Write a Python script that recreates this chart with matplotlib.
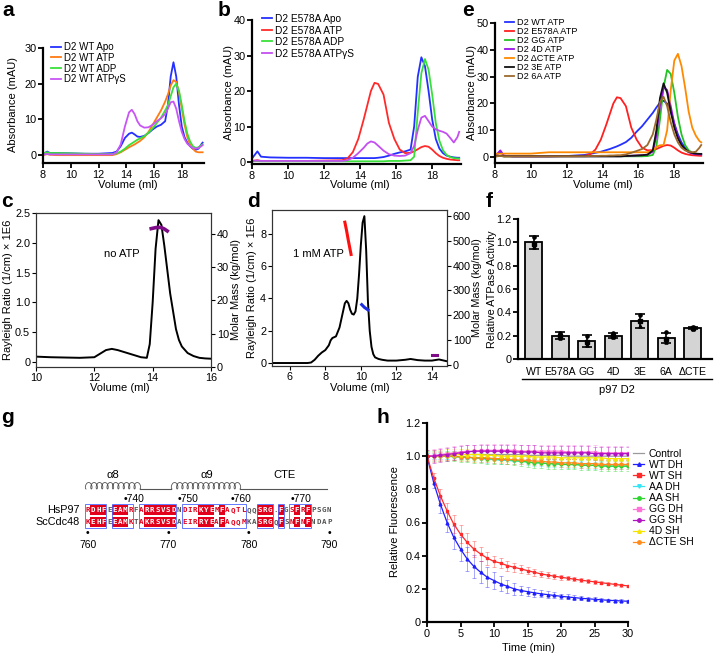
import numpy as np
import matplotlib
matplotlib.use("Agg")
import matplotlib.pyplot as plt
from matplotlib.lines import Line2D
from matplotlib.patches import Rectangle
from matplotlib.ticker import FuncFormatter

plt.rcParams['font.family'] = ['Liberation Sans', 'DejaVu Sans']
plt.rcParams['font.size'] = 7.8

# ---------------- data ----------------
# SEC elution volumes (ml) shared by panels a, b, e
vol = [8.0, 8.3, 8.5, 9.0, 10.0, 11.0, 12.0, 13.0,
       13.3, 13.6, 13.9, 14.2, 14.4, 14.6, 14.8, 15.0,
       15.3, 15.6, 15.9, 16.2, 16.5, 16.8, 17.0, 17.2,
       17.4, 17.6, 17.8, 18.0, 18.2, 18.4, 18.6, 18.8,
       19.0, 19.2, 19.4, 19.5]

# panel a: D2 WT
a_labels = ['D2 WT Apo', 'D2 WT ATP', 'D2 WT ADP', 'D2 WT ATPγS']
a_apo = [0.3, 1.0, 0.6, 0.6, 0.5, 0.4, 0.4, 0.6,
         1.0, 2.5, 4.8, 6.0, 6.3, 5.8, 5.2, 5.1,
         5.4, 6.2, 7.2, 8.0, 8.5, 9.5, 14.0, 22.0,
         26.0, 22.0, 14.0, 8.0, 5.0, 3.5, 2.5, 1.8,
         1.5, 1.8, 3.0, 3.5]
a_atp = [0.0, 0.3, 0.1, 0.0, 0.0, 0.0, 0.0, 0.0,
         0.3, 0.8, 1.5, 2.2, 2.6, 3.0, 3.5, 4.0,
         5.0, 6.5, 8.5, 10.5, 12.5, 15.0, 17.0, 19.5,
         21.0, 20.5, 17.5, 13.0, 8.5, 5.0, 3.0, 1.8,
         1.0, 0.8, 0.8, 0.8]
a_adp = [0.5, 0.8, 0.6, 0.6, 0.5, 0.4, 0.3, 0.3,
         0.5, 1.0, 1.8, 2.8, 3.3, 3.8, 4.3, 4.7,
         5.3, 6.3, 7.5, 9.0, 10.5, 12.5, 14.0, 16.5,
         19.0, 20.0, 18.0, 14.0, 9.5, 6.0, 3.8, 2.5,
         2.0, 2.2, 2.8, 3.0]
a_atpgs = [0.2, 0.3, 0.2, 0.2, 0.2, 0.2, 0.2, 0.2,
           0.8, 3.0, 8.0, 12.0, 12.7, 11.5, 9.5, 8.3,
           7.7, 7.8, 8.5, 9.5, 10.3, 11.5, 13.0, 14.8,
           15.0, 13.0, 9.5, 6.5, 4.5, 3.2, 2.5, 2.0,
           1.8, 2.0, 2.5, 2.8]

# panel b: D2 E578A
b_labels = ['D2 E578A Apo', 'D2 E578A ATP', 'D2 E578A ADP', 'D2 E578A ATPγS']
b_apo = [1.0, 3.0, 1.5, 1.3, 1.2, 1.2, 1.1, 1.1,
         1.1, 1.1, 1.1, 1.1, 1.1, 1.1, 1.1, 1.2,
         1.4, 1.8, 2.3, 2.7, 3.0, 3.5, 10.0, 24.0,
         29.5, 27.0, 20.0, 12.0, 6.5, 3.8, 2.5, 1.8,
         1.5, 1.3, 1.2, 1.2]
b_atp = [0.3, 0.5, 0.3, 0.3, 0.3, 0.3, 0.4, 0.5,
         1.0, 2.8, 6.5, 12.0, 16.0, 20.0, 22.3, 22.0,
         19.0, 11.0, 6.5, 3.5, 2.5, 2.6, 3.0, 3.6,
         4.2, 4.5, 4.3, 3.5, 2.5, 1.7, 1.2, 0.9,
         0.7, 0.6, 0.5, 0.5]
b_adp = [0.2, 0.3, 0.2, 0.2, 0.2, 0.2, 0.2, 0.2,
         0.2, 0.2, 0.2, 0.2, 0.2, 0.2, 0.2, 0.2,
         0.2, 0.3, 0.3, 0.3, 0.4, 0.5, 1.5, 14.0,
         25.0, 29.0, 26.0, 19.0, 11.0, 6.0, 3.3, 2.0,
         1.4, 1.1, 1.0, 1.0]
b_atpgs = [0.3, 0.4, 0.3, 0.3, 0.3, 0.3, 0.3, 0.3,
           0.5, 1.2, 2.5, 4.0, 5.2, 5.8, 5.5, 4.6,
           3.2, 2.2, 1.8, 1.7, 1.8, 2.5, 4.5, 9.0,
           12.5, 13.0, 11.5, 10.0, 9.2, 8.8, 8.5, 8.0,
           6.8, 5.5, 7.0, 8.5]

# panel e: D2 mutants with ATP
e_labels = ['D2 WT ATP', 'D2 E578A ATP', 'D2 GG ATP', 'D2 4D ATP',
            'D2 ΔCTE ATP', 'D2 3E ATP', 'D2 6A ATP']
e_wt = [0.3, 2.0, 0.5, 0.3, 0.3, 0.3, 0.4, 0.8,
        1.2, 1.6, 2.0, 2.6, 3.0, 3.5, 4.0, 4.6,
        5.6, 7.2, 9.5, 11.5, 14.0, 16.5, 18.5, 20.3,
        21.0, 20.0, 17.0, 12.5, 8.5, 5.5, 3.5, 2.3,
        1.6, 1.2, 1.0, 1.0]
e_e578a = b_atp  # same E578A + ATP run
e_gg = [0.3, 0.5, 0.3, 0.3, 0.3, 0.3, 0.3, 0.3,
        0.3, 0.3, 0.3, 0.3, 0.3, 0.3, 0.3, 0.3,
        0.3, 0.3, 0.3, 0.3, 0.4, 0.8, 4.0, 14.0,
        26.0, 32.5, 31.0, 24.0, 15.0, 8.5, 4.5, 2.5,
        1.6, 1.2, 1.1, 1.1]
e_4d = [0.3, 2.5, 0.5, 0.3, 0.3, 0.3, 0.3, 0.3,
        0.3, 0.3, 0.3, 0.3, 0.3, 0.3, 0.3, 0.3,
        0.4, 0.5, 0.6, 0.7, 0.9, 2.0, 8.0, 19.0,
        26.0, 25.0, 19.0, 12.5, 7.5, 4.5, 2.8, 1.8,
        1.3, 1.1, 1.0, 1.0]
e_dcte = [1.2, 1.3, 1.3, 1.3, 1.3, 1.8, 1.8, 1.8,
          1.8, 1.8, 1.8, 1.8, 1.8, 1.8, 1.8, 1.8,
          1.8, 1.8, 1.8, 1.8, 1.8, 2.5, 3.8, 4.4,
          4.5, 10.0, 25.0, 36.0, 38.5, 34.0, 26.0, 17.0,
          11.0, 8.0, 6.0, 5.5]
e_3e = [0.3, 0.4, 0.3, 0.3, 0.3, 0.3, 0.3, 0.3,
        0.3, 0.3, 0.3, 0.3, 0.3, 0.3, 0.3, 0.3,
        0.4, 0.5, 0.6, 0.7, 0.9, 2.5, 10.0, 22.0,
        27.5, 24.0, 17.0, 11.0, 7.0, 4.5, 3.0, 2.0,
        1.5, 1.3, 1.2, 1.2]
e_6a = [0.3, 0.4, 0.3, 0.3, 0.3, 0.3, 0.3, 0.3,
        0.4, 0.4, 0.5, 0.5, 0.6, 0.6, 0.7, 0.7,
        1.0, 1.6, 2.3, 3.0, 4.5, 8.5, 14.0, 20.5,
        22.5, 19.0, 13.0, 8.5, 5.5, 3.5, 2.5, 2.0,
        1.8, 2.0, 3.5, 4.5]

# panel c: SEC-MALS, no ATP
c_vol = [10.0, 10.5, 11.0, 11.5, 12.0, 12.2, 12.4, 12.6, 12.8, 13.0,
         13.2, 13.4, 13.6, 13.8, 13.9, 14.0, 14.1, 14.2, 14.3, 14.4,
         14.5, 14.6, 14.7, 14.8, 14.9, 15.0, 15.2, 15.4, 15.6, 15.8,
         16.0]
c_rr = [0.09, 0.08, 0.075, 0.07, 0.08, 0.14, 0.20, 0.22, 0.20, 0.17,
        0.14, 0.11, 0.08, 0.07, 0.3, 1.0, 1.9, 2.38, 2.3, 1.95,
        1.55, 1.15, 0.85, 0.55, 0.37, 0.26, 0.15, 0.10, 0.07, 0.06,
        0.055]
c_mm_vol = [13.95, 14.1, 14.2, 14.3, 14.4, 14.5]
c_mm = [41.6, 41.9, 42.0, 41.9, 41.5, 40.9]

# panel d: SEC-MALS, 1 mM ATP
d_vol = [5.0, 6.0, 7.0, 7.2, 7.4, 7.6, 7.8, 8.0, 8.2, 8.3,
         8.4, 8.6, 8.8, 9.0, 9.1, 9.2, 9.3, 9.4, 9.5, 9.6,
         9.7, 9.8, 9.9, 10.0, 10.1, 10.2, 10.3, 10.4, 10.5, 10.6,
         10.7, 10.8, 11.0, 11.2, 11.5, 12.0, 12.5, 12.8, 13.2, 13.6,
         14.0, 14.4, 14.8]
d_rr = [0.0, 0.0, 0.0, 0.03, 0.2, 0.45, 0.65, 0.8, 1.1, 1.4,
        1.55, 1.65, 2.2, 3.2, 3.7, 3.85, 3.7, 3.3, 3.05, 3.0,
        3.2, 4.0, 5.5, 7.3, 8.7, 9.1, 7.0, 3.8, 2.0, 1.0,
        0.55, 0.35, 0.25, 0.2, 0.15, 0.15, 0.2, 0.25, 0.18, 0.15,
        0.15, 0.22, 0.12]
d_mm_red_vol = [9.1, 9.2, 9.3, 9.45]
d_mm_red = [575, 540, 500, 445]
d_mm_blue_vol = [10.05, 10.2, 10.4]
d_mm_blue = [243, 232, 222]
d_mm_purple_vol = [14.0, 14.3]
d_mm_purple = [40, 40]

# panel f: ATPase activity
f_labels = ['WT', 'E578A', 'GG', '4D', '3E', '6A', 'ΔCTE']
f_mean = [1.0, 0.2, 0.155, 0.2, 0.33, 0.18, 0.265]
f_sd = [0.055, 0.03, 0.05, 0.02, 0.06, 0.045, 0.012]
f_reps = [[1.05, 0.99, 0.96], [0.22, 0.2, 0.18], [0.2, 0.15, 0.12],
          [0.22, 0.2, 0.19], [0.38, 0.33, 0.28], [0.23, 0.17, 0.15],
          [0.275, 0.265, 0.26]]

# panel g: alignment
seq_hs = "RDHFEEAMRFARRSVSDNDIRKYEMFAQTLQQSRG.FGSFRFPSGN"
seq_sc = "KEHFEEAMKTAKRSVSDAEIRRYEAFAQQMKASRGQFSNFNFNDAP"
seq_cls = "siiiniiisnsiiiiiinsssiiisissssnniiininsisinnnn"
hs_marks = [(7, '740'), (17, '750'), (27, '760'), (38, '770')]
sc_marks = [(0, '760'), (15, '770'), (30, '780'), (45, '790')]

# panel h: fluorescence time course
h_time = list(range(31))
h_labels = ['Control', 'WT DH', 'WT SH', 'AA DH', 'AA SH',
            'GG DH', 'GG SH', '4D SH', 'ΔCTE SH']
h_control = [1.0, 1.0, 1.005, 1.005, 1.01, 1.01, 1.01, 1.01, 1.01, 1.01,
             1.01, 1.01, 1.01, 1.01, 1.01, 1.005, 1.005, 1.005, 1.005, 1.005,
             1.005, 1.0, 1.0, 1.0, 1.0, 1.0, 1.0, 1.0, 1.0, 1.0,
             1.0]
h_wt_dh = [1.0, 0.84, 0.71, 0.60, 0.51, 0.44, 0.38, 0.335, 0.30, 0.27,
           0.25, 0.23, 0.215, 0.20, 0.19, 0.183, 0.176, 0.17, 0.165, 0.16,
           0.155, 0.151, 0.147, 0.143, 0.14, 0.137, 0.134, 0.131, 0.129, 0.127,
           0.125]
h_wt_sh = [1.0, 0.87, 0.76, 0.67, 0.59, 0.53, 0.48, 0.44, 0.41, 0.385,
           0.365, 0.355, 0.34, 0.33, 0.32, 0.31, 0.30, 0.29, 0.283, 0.276,
           0.27, 0.264, 0.258, 0.252, 0.247, 0.242, 0.237, 0.232, 0.227, 0.222,
           0.218]
h_aa_dh = [1.0, 1.0, 1.0, 1.0, 0.995, 0.995, 0.99, 0.99, 0.985, 0.98,
           0.98, 0.975, 0.975, 0.97, 0.97, 0.965, 0.96, 0.96, 0.955, 0.955,
           0.955, 0.95, 0.95, 0.95, 0.945, 0.945, 0.945, 0.94, 0.94, 0.94,
           0.94]
h_aa_sh = [1.0, 1.0, 1.0, 1.0, 1.0, 0.995, 0.995, 0.99, 0.99, 0.985,
           0.985, 0.98, 0.98, 0.975, 0.97, 0.965, 0.96, 0.96, 0.955, 0.955,
           0.95, 0.95, 0.95, 0.945, 0.945, 0.945, 0.94, 0.94, 0.94, 0.94,
           0.94]
h_gg_dh = [1.0, 1.005, 1.01, 1.015, 1.02, 1.025, 1.03, 1.03, 1.035, 1.035,
           1.035, 1.035, 1.035, 1.035, 1.03, 1.03, 1.03, 1.03, 1.03, 1.03,
           1.03, 1.025, 1.025, 1.025, 1.025, 1.025, 1.02, 1.02, 1.02, 1.02,
           1.02]
h_gg_sh = [1.0, 1.0, 1.005, 1.01, 1.015, 1.02, 1.025, 1.03, 1.03, 1.03,
           1.03, 1.03, 1.03, 1.025, 1.025, 1.025, 1.025, 1.02, 1.02, 1.02,
           1.02, 1.02, 1.02, 1.02, 1.02, 1.015, 1.015, 1.015, 1.015, 1.015,
           1.015]
h_4d_sh = [1.0, 1.0, 1.005, 1.01, 1.01, 1.01, 1.01, 1.01, 1.01, 1.005,
           1.005, 1.0, 1.0, 1.0, 1.0, 1.0, 0.995, 0.995, 0.995, 0.995,
           0.99, 0.99, 0.99, 0.99, 0.99, 0.99, 0.99, 0.985, 0.985, 0.985,
           0.985]
h_dcte_sh = [1.0, 1.0, 1.0, 1.0, 1.0, 0.995, 0.995, 0.99, 0.99, 0.99,
             0.985, 0.985, 0.98, 0.98, 0.975, 0.975, 0.97, 0.97, 0.965, 0.965,
             0.96, 0.96, 0.96, 0.955, 0.955, 0.955, 0.95, 0.95, 0.95, 0.95,
             0.95]
h_wt_dh_err = [0, 0.03, 0.05, 0.06, 0.07, 0.075, 0.075, 0.07, 0.065, 0.06,
               0.05, 0.045, 0.04, 0.035, 0.03, 0.028, 0.025, 0.022, 0.02, 0.018,
               0.016, 0.015, 0.014, 0.013, 0.012, 0.011, 0.01, 0.01, 0.009, 0.009,
               0.008]
h_wt_sh_err = [0, 0.03, 0.04, 0.05, 0.055, 0.055, 0.055, 0.05, 0.045, 0.04,
               0.035, 0.032, 0.03, 0.027, 0.025, 0.022, 0.02, 0.018, 0.016, 0.015,
               0.014, 0.013, 0.012, 0.011, 0.01, 0.01, 0.009, 0.009, 0.008, 0.008,
               0.008]
h_flat_err = [0.02, 0.03, 0.03, 0.04, 0.04, 0.035, 0.025]  # AA DH .. dCTE SH

# ---------------- layout helpers ----------------
W, H = 717, 654
fig = plt.figure(figsize=(W / 100, H / 100), dpi=100)


def add_ax(box):
    l, t, r, b = box
    return fig.add_axes([l / W, 1 - b / H, (r - l) / W, (b - t) / H])


def frac(box, x, y):
    l, t, r, b = box
    return (x - l) / (r - l), (b - y) / (b - t)


def ftext(x, y, s, **kw):
    kw.setdefault('ha', 'center')
    kw.setdefault('va', 'center')
    fig.text(x / W, 1 - y / H, s, **kw)


def prism(ax):
    for s in ['top', 'right']:
        ax.spines[s].set_visible(False)
    for s in ['left', 'bottom']:
        ax.spines[s].set_linewidth(1.6)
    ax.tick_params(direction='out', length=3.5, width=1.3, labelsize=7.8, pad=1.2)


def chrom_panel(box, curves, colors, labels, yticks, ylim, leg_xy, leg_fs, leg_sp):
    ax = add_ax(box)
    for vals, c, lab in zip(curves, colors, labels):
        ax.plot(vol, vals, color=c, lw=1.3, label=lab)
    ax.set_xlim(8, 19.6)
    ax.set_ylim(*ylim)
    ax.set_xticks([8, 10, 12, 14, 16, 18])
    ax.set_yticks(yticks)
    prism(ax)
    ax.legend(loc='upper left', bbox_to_anchor=frac(box, *leg_xy), frameon=False,
              fontsize=leg_fs, handlelength=1.0, handletextpad=0.3,
              labelspacing=leg_sp, borderpad=0, borderaxespad=0)
    return ax


def mals_style(ax, ax2):
    for a in (ax, ax2):
        for s in a.spines.values():
            s.set_linewidth(0.8)
            s.set_color('#333333')
        a.tick_params(direction='out', length=3, width=0.8, labelsize=7.8, pad=1.2)


# ---------------- panel a ----------------
box_a = (43, 48, 204, 163)
chrom_panel(box_a, [a_apo, a_atp, a_adp, a_atpgs],
            ['#2430ff', '#ff7b12', '#3ae03a', '#c855f5'], a_labels,
            [0, 10, 20, 30], (-2.2, 30), (51, 42), 7, 0.08)
ftext(128, 185, 'Volume (ml)', fontsize=8)
ftext(13, 105, 'Absorbance (mAU)', fontsize=8, rotation=90)

# ---------------- panel b ----------------
box_b = (252, 20, 461, 164)
chrom_panel(box_b, [b_apo, b_atp, b_adp, b_atpgs],
            ['#2430ff', '#ff2a2a', '#3ae03a', '#c34ff0'], b_labels,
            [0, 10, 20, 30, 40], (-0.56, 40), (262, 14), 7.3, 0.15)
ftext(360, 185, 'Volume (ml)', fontsize=8)
ftext(229, 92, 'Absorbance (mAU)', fontsize=8, rotation=90)

# ---------------- panel e ----------------
box_e = (495, 23, 703, 163)
chrom_panel(box_e, [e_wt, e_e578a, e_gg, e_4d, e_dcte, e_3e, e_6a],
            ['#2430ff', '#ff2020', '#22c322', '#9a12e6', '#ff8a00', '#111111', '#9b6a2c'],
            e_labels, [0, 10, 20, 30, 40, 50], (-2.2, 50), (505, 18), 6.6, 0.0)
ftext(603, 185, 'Volume (ml)', fontsize=8)
ftext(472, 93, 'Absorbance (mAU)', fontsize=8, rotation=90)

# ---------------- panel c ----------------
box_c = (36, 213, 211, 367)
ax = add_ax(box_c)
ax.plot(c_vol, c_rr, color='k', lw=1.4)
ax.set_xlim(10, 16)
ax.set_ylim(-0.084, 2.5)
ax.set_xticks([10, 12, 14, 16])
ax.set_yticks([0, 0.5, 1.0, 1.5, 2.0, 2.5])
ax.yaxis.set_major_formatter(FuncFormatter(lambda v, p: '0' if v == 0 else f'{v:.1f}'))
ax2 = ax.twinx()
ax2.plot(c_mm_vol, c_mm, color='#7d0c86', lw=2.6)
ax2.set_ylim(0, 46.3)
ax2.set_yticks([0, 10, 20, 30, 40])
mals_style(ax, ax2)
ftext(122, 254, 'no ATP', fontsize=8)
ftext(120, 388, 'Volume (ml)', fontsize=8)
ftext(8, 290, 'Rayleigh Ratio (1/cm) × 1E6', fontsize=8, rotation=90)
ftext(236, 290, 'Molar Mass (kg/mol)', fontsize=8, rotation=90)

# ---------------- panel d ----------------
box_d = (272, 210, 447, 366)
ax = add_ax(box_d)
ax.plot(d_vol, d_rr, color='k', lw=1.4)
ax.set_xlim(5.0, 14.85)
ax.set_ylim(-0.185, 9.48)
ax.set_xticks([6, 8, 10, 12, 14])
ax.set_yticks([0, 2, 4, 6, 8])
ax2 = ax.twinx()
ax2.plot(d_mm_red_vol, d_mm_red, color='#ff1010', lw=2.2)
ax2.plot(d_mm_blue_vol, d_mm_blue, color='#1c2ee0', lw=2.2)
ax2.plot(d_mm_purple_vol, d_mm_purple, color='#7d0c86', lw=2.2)
ax2.set_ylim(-4, 624)
ax2.set_yticks([0, 100, 200, 300, 400, 500, 600])
mals_style(ax, ax2)
ftext(318, 254, '1 mM ATP', fontsize=8)
ftext(360, 388, 'Volume (ml)', fontsize=8)
ftext(252, 288, 'Rayleigh Ratio (1/cm) × 1E6', fontsize=8, rotation=90)
ftext(477, 288, 'Molar Mass (kg/mol)', fontsize=7.8, rotation=90)

# ---------------- panel f ----------------
box_f = (518, 219, 712, 359)
ax = add_ax(box_f)
xs = np.arange(len(f_labels))
ax.bar(xs, f_mean, width=0.64, color='#d4d4d4', edgecolor='k', linewidth=1.3, zorder=1)
ax.errorbar(xs, f_mean, yerr=f_sd, fmt='none', ecolor='k', elinewidth=1.2,
            capsize=3.5, capthick=1.2, zorder=3)
for j, m in enumerate(['o', 's', '^']):
    ax.plot(xs, [r[j] for r in f_reps], ls='none', marker=m, ms=2.3, color='k', zorder=4)
ax.set_xlim(-0.6, 6.72)
ax.set_ylim(0, 1.2)
ax.set_yticks([0, 0.2, 0.4, 0.6, 0.8, 1.0, 1.2])
ax.yaxis.set_major_formatter(FuncFormatter(lambda v, p: '0' if v == 0 else f'{v:.1f}'))
prism(ax)
ax.set_xticks(xs)
ax.set_xticklabels(f_labels, fontsize=7.6)
ax.tick_params(axis='x', length=0, pad=6)
fig.add_artist(Line2D([522 / W, 712 / W], [1 - 379 / H] * 2, color='k', lw=1.0))
ftext(617, 390, 'p97 D2', fontsize=8)
ftext(492, 289, 'Relative ATPase Activity', fontsize=7.8, rotation=90)

# ---------------- panel g ----------------
red = '#e3001b'
ax = add_ax((0, 440, 360, 560))
ax.set_xlim(0, 360)
ax.set_ylim(560, 440)
ax.axis('off')
cw, x_seq = 5.37, 85
row_y = [510, 522]


def coil(x0, x1, n, yb, h=6.5):
    t = np.linspace(0, 2 * np.pi * n, 40 * n)
    p = (x1 - x0) / n
    ax.plot(x0 + p * t / (2 * np.pi) - 1.8 * np.sin(t), yb - h / 2 * (1 - np.cos(t)),
            color='#555555', lw=0.6)


coil(86, 140, 10, 489)
ax.plot([140, 171], [489, 489], color='#555555', lw=0.8)
coil(172, 240, 13, 489)
ax.plot([240, 327], [489, 489], color='#555555', lw=0.8)
ax.text(113, 475, 'α8', ha='center', va='center', fontsize=8)
ax.text(207, 475, 'α9', ha='center', va='center', fontsize=8)
ax.text(285, 475, 'CTE', ha='center', va='center', fontsize=8)

for i, (r1, r2, k) in enumerate(zip(seq_hs, seq_sc, seq_cls)):
    xc = x_seq + (i + 0.5) * cw
    for res, yy in zip((r1, r2), row_y):
        if k == 'i':
            ax.add_patch(Rectangle((xc - cw / 2, yy - 5), cw, 10, fc=red, ec='none'))
        col = {'i': 'white', 's': red, 'n': '#555555'}[k]
        ax.text(xc, yy, res, ha='center', va='center', fontsize=5.4,
                family='DejaVu Sans Mono', fontweight='bold', color=col)

start = None
for i, k in enumerate(seq_cls + 'n'):
    if k != 'n' and start is None:
        start = i
    elif k == 'n' and start is not None:
        ax.add_patch(Rectangle((x_seq + start * cw, 504), (i - start) * cw, 24,
                               fill=False, ec='#4a62ff', lw=0.6))
        start = None

ax.text(80, row_y[0], 'HsP97', ha='right', va='center', fontsize=7.8)
ax.text(80, row_y[1], 'ScCdc48', ha='right', va='center', fontsize=7.8)
for col_i, num in hs_marks:
    xc = x_seq + (col_i + 0.5) * cw
    ax.text(xc - 1.6, 499, '•' + num, ha='left', va='center', fontsize=7.5)
for col_i, num in sc_marks:
    xc = x_seq + (col_i + 0.5) * cw
    ax.text(xc, 533, '•', ha='center', va='center', fontsize=7.5)
    ax.text(xc, 545, num, ha='center', va='center', fontsize=7.5)

# ---------------- panel h ----------------
box_h = (427, 423, 628, 622)
ax = add_ax(box_h)
h_series = [
    (h_control, '#9a9a9a', None, 0.02, 'Control'),
    (h_aa_dh, '#33e5f5', 'v', h_flat_err[0], 'AA DH'),
    (h_aa_sh, '#2ed62e', 'o', h_flat_err[1], 'AA SH'),
    (h_dcte_sh, '#ff8c1a', 'o', h_flat_err[6], 'ΔCTE SH'),
    (h_4d_sh, '#f5e400', '^', h_flat_err[5], '4D SH'),
    (h_gg_dh, '#ff74d8', 's', h_flat_err[3], 'GG DH'),
    (h_gg_sh, '#b212c2', 'o', h_flat_err[4], 'GG SH'),
    (h_wt_dh, '#1f1fff', '^', h_wt_dh_err, 'WT DH'),
    (h_wt_sh, '#ff2a2a', 's', h_wt_sh_err, 'WT SH'),
]
handles = {}
for vals, c, m, err, lab in h_series:
    cont = ax.errorbar(h_time, vals, yerr=err, color=c, marker=m, ms=2, lw=0.9,
                       elinewidth=0.6, capsize=1.5, capthick=0.6)
    for art in list(cont[1]) + list(cont[2]):
        art.set_alpha(0.45)
    handles[lab] = Line2D([], [], color=c, marker=m, ms=2.5, lw=0.9)
ax.set_xlim(0, 30)
ax.set_ylim(0, 1.2)
ax.set_xticks([0, 5, 10, 15, 20, 25, 30])
ax.set_yticks([0, 0.2, 0.4, 0.6, 0.8, 1.0, 1.2])
ax.yaxis.set_major_formatter(FuncFormatter(lambda v, p: '0' if v == 0 else f'{v:.1f}'))
prism(ax)
ax.legend([handles[l] for l in h_labels], h_labels, loc='upper left',
          bbox_to_anchor=frac(box_h, 633, 449), frameon=False, fontsize=7.5,
          handlelength=1.1, handletextpad=0.4, labelspacing=0.1,
          borderpad=0, borderaxespad=0)
ftext(528, 648, 'Time (min)', fontsize=8)
ftext(395, 522, 'Relative Fluorescence', fontsize=8, rotation=90)

# ---------------- panel letters ----------------
for x, y, s in [(2, 16, 'a'), (218, 16, 'b'), (462, 16, 'e'), (1, 207, 'c'),
                (247, 207, 'd'), (486, 207, 'f'), (1, 423, 'g'), (377, 423, 'h')]:
    ftext(x, y, s, ha='left', va='baseline', fontsize=15, fontweight='bold')

fig.savefig('out.png', dpi=100)
